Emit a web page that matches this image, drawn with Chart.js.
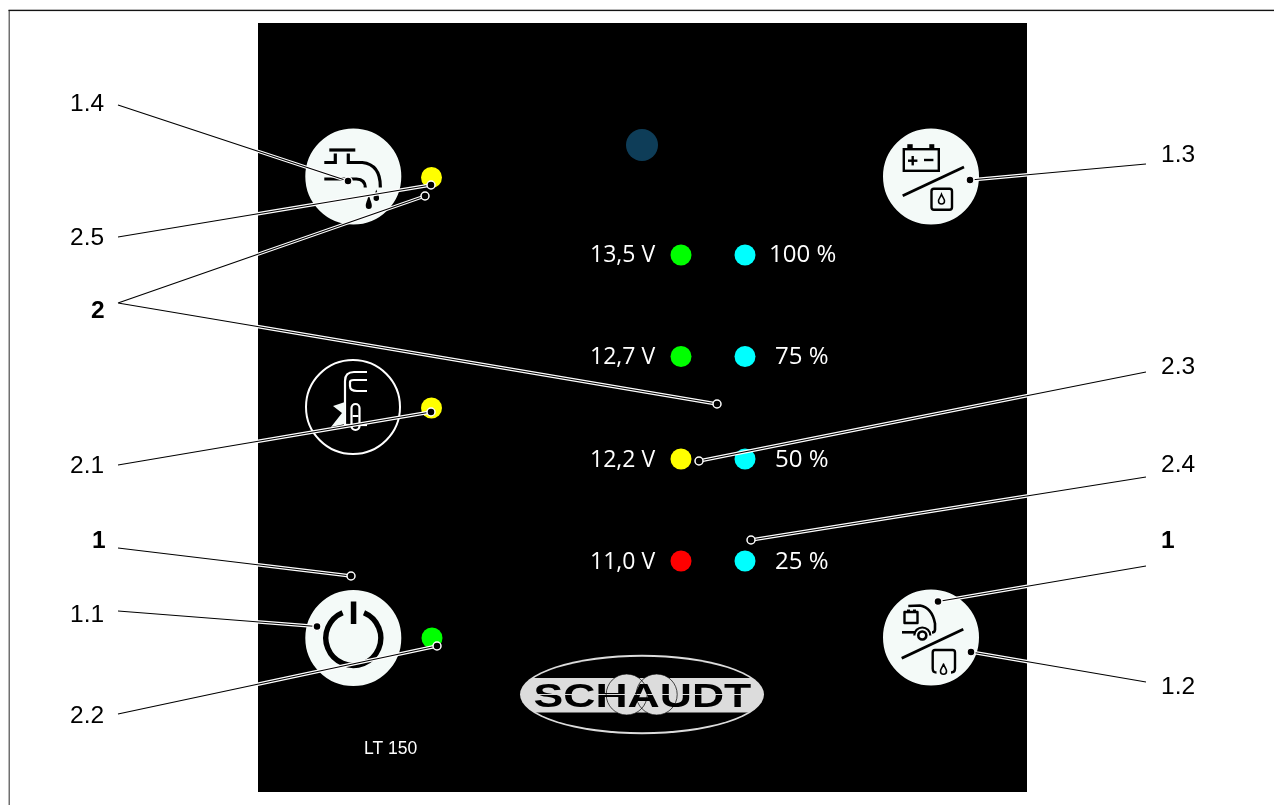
<!DOCTYPE html>
<html lang="de">
<head>
    <meta charset="UTF-8">
    <title>LT 150</title>
    <script src="https://cdn.jsdelivr.net/npm/chart.js"></script>
    <style>
        html, body { margin: 0; padding: 0; background: #ffffff; overflow: hidden; }
        canvas { display: block; }
    </style>
</head>
<body>
    <canvas id="chartCanvas" width="1274" height="805"></canvas>
    <script>
        // Buttons on the panel
        const buttonX = [353.3, 353, 353.3, 931, 931];
        const buttonY = [176.5, 407, 638, 176.5, 637.5];
        const buttonFill = ["#f4faf8", "#000000", "#f4faf8", "#f4faf8", "#f4faf8"];
        const buttonEdge = ["#f4faf8", "#ffffff", "#f4faf8", "#f4faf8", "#f4faf8"];

        // LEDs
        const ledX = [431.5, 431.5, 432, 681, 681, 681, 681, 745, 745, 745, 745];
        const ledY = [177.5, 408, 638, 255, 356.5, 459, 561, 255, 356.5, 459, 561];
        const ledColors = ["#ffff00", "#ffff00", "#00ff00", "#00ff00", "#00ff00", "#ffff00", "#ff0000",
            "#00ffff", "#00ffff", "#00ffff", "#00ffff"];

        // Panel texts
        const voltLabels = ["13,5 V", "12,7 V", "12,2 V", "11,0 V"];
        const percentLabels = ["100 %", "75 %", "50 %", "25 %"];
        const percentLeft = [769, 775, 775, 775];
        const rowBaseline = [262, 364, 467, 569];

        // Callouts
        const calloutLabels = ["1.4", "2.5", "2", "2.1", "1", "1.1", "2.2", "1.3", "2.3", "2.4", "1", "1.2"];
        const calloutX = [70, 70, 91, 70, 92, 70, 70, 1161, 1161, 1161, 1161, 1161];
        const calloutY = [111, 245, 318, 473, 548, 622, 723, 162, 374, 472, 548, 694];
        const calloutBold = [false, false, true, false, true, false, false, false, false, false, true, false];

        // Leader lines
        const leaderFrom = [[118, 105], [118, 237], [118, 303], [118, 303], [118, 465], [118, 548], [118, 611], [118, 714],
            [1146, 164], [1146, 372], [1146, 477], [1146, 566], [1146, 682]];
        const leaderTo = [[348, 181], [431, 185], [425, 196], [717, 404], [431, 412], [351, 576], [317, 626.5], [437, 646],
            [970, 180], [699, 461], [751, 540], [938, 601.5], [971, 652]];

        const leaderPath = [];
        leaderFrom.forEach((p, i) => {
            leaderPath.push({ x: p[0], y: p[1] }, { x: leaderTo[i][0], y: leaderTo[i][1] }, { x: null, y: null });
        });
        const zip = (xs, ys) => xs.map((x, i) => ({ x: x, y: ys[i] }));

        // Black panel and the outer frame
        const panelPlugin = {
            id: "panelPlugin",
            beforeDatasetsDraw(chart) {
                const c = chart.ctx, sx = chart.scales.x, sy = chart.scales.y;
                c.save();
                c.fillStyle = "#000000";
                const l = sx.getPixelForValue(258), t = sy.getPixelForValue(23);
                c.fillRect(l, t, sx.getPixelForValue(1027) - l, sy.getPixelForValue(792) - t);
                c.fillStyle = "#707070";
                c.fillRect(sx.getPixelForValue(8.5), sy.getPixelForValue(10), 1.5, 795);
                c.fillStyle = "#141414";
                c.fillRect(sx.getPixelForValue(8.5), sy.getPixelForValue(9.7), 1266, 1.4);
                drawLogo(c, sx, sy);
                c.restore();
            }
        };

        function drop(c, x, y, h, w) {
            c.beginPath();
            c.moveTo(x, y - h / 2);
            c.bezierCurveTo(x + w * 0.2, y - h * 0.15, x + w * 0.55, y + h * 0.05, x + w * 0.5, y + h * 0.22);
            c.arc(x, y + h * 0.22, w / 2, 0, Math.PI);
            c.bezierCurveTo(x - w * 0.55, y + h * 0.05, x - w * 0.2, y - h * 0.15, x, y - h / 2);
            c.closePath();
        }

        function drawLogo(c, sx, sy) {
            const x = sx.getPixelForValue(642), y = sy.getPixelForValue(694.5);
            c.save();
            c.fillStyle = "#dcdcdc";
            c.beginPath();
            c.ellipse(x, y, 122, 39.7, 0, 0, Math.PI * 2);
            c.fill();
            c.save();
            c.beginPath();
            c.rect(x - 130, y - 45, 260, 28.5);
            c.rect(x - 130, y + 18, 260, 28);
            c.clip();
            c.fillStyle = "#000000";
            c.beginPath();
            c.ellipse(x, y, 120, 37.7, 0, 0, Math.PI * 2);
            c.fill();
            c.restore();
            [-15.3, 14.7].forEach(dx => {
                c.beginPath();
                c.arc(x + dx, y, 20.5, 0, Math.PI * 2);
                c.fillStyle = "#dcdcdc";
                c.fill();
            });
            c.save();
            c.translate(x - 108.5, y + 12);
            c.scale(1.35, 1);
            c.fillStyle = "#000000";
            c.textAlign = "left";
            c.textBaseline = "alphabetic";
            c.font = "bold 33px 'Liberation Sans'";
            c.fillText("SCHAUDT", 0, 0);
            c.restore();
            // hairline through the letters
            c.fillStyle = "#dcdcdc";
            c.fillRect(x - 106, y - 0.5, 214, 1);
            c.strokeStyle = "#000000";
            c.lineWidth = 0.7;
            [-15.3, 14.7].forEach(dx => {
                c.beginPath();
                c.arc(x + dx, y, 20.5, 0, Math.PI * 2);
                c.stroke();
            });
            c.restore();
        }

        // Symbols on the buttons, coordinates relative to the button's own centre
        const iconDrawers = [
            function tap(c) {
                c.strokeStyle = "#000000"; c.lineWidth = 3.2; c.lineCap = "butt";
                c.beginPath(); c.moveTo(-24, -26.5); c.lineTo(2, -26.5); c.stroke();
                c.beginPath(); c.moveTo(-18, -23); c.lineTo(-18, -14); c.lineTo(-29, -14); c.stroke();
                c.beginPath(); c.moveTo(-5, -23); c.lineTo(-5, -14); c.lineTo(9, -14);
                c.quadraticCurveTo(27, -12, 27, 10); c.lineTo(27, 11); c.stroke();
                c.beginPath(); c.moveTo(-29, 2.5); c.lineTo(3, 2.5); c.quadraticCurveTo(12, 3, 12, 11); c.stroke();
                c.fillStyle = "#000000";
                drop(c, 15.5, 26, 16, 6); c.fill();
                drop(c, 23, 19, 12, 5.5); c.fill();
            },
            function filler(c) {
                c.strokeStyle = "#ffffff"; c.lineWidth = 2.2; c.lineCap = "butt";
                c.beginPath(); c.moveTo(14, -35); c.lineTo(1, -35); c.quadraticCurveTo(-8, -35, -8, -26); c.lineTo(-8, 18); c.stroke();
                c.beginPath(); c.moveTo(14, -16); c.lineTo(4, -16); c.quadraticCurveTo(-3, -16, -3, -21);
                c.lineTo(-3, -25); c.quadraticCurveTo(-3, -27, 1, -27); c.lineTo(14, -27); c.stroke();
                c.beginPath(); c.moveTo(-8, 18); c.lineTo(14, 18); c.stroke();
                c.fillStyle = "#f4faf8";
                c.beginPath(); c.moveTo(-8, -5); c.lineTo(-20, -1); c.lineTo(-11, 6); c.lineTo(-22, 20); c.lineTo(-8, 17); c.closePath(); c.fill();
                c.lineWidth = 2.2;
                c.fillStyle = "#000000";
                c.beginPath(); c.roundRect(-1.5, -3, 8, 26, 4); c.fill(); c.stroke();
                c.fillStyle = "#ffffff";
                c.fillRect(-0.5, 8, 6, 2);
            },
            function power(c) {
                c.strokeStyle = "#000000"; c.lineWidth = 5.4; c.lineCap = "butt";
                c.beginPath(); c.arc(0, 0, 27.5, -Math.PI / 2 + 0.4, -Math.PI / 2 - 0.4); c.stroke();
                c.fillStyle = "#000000";
                c.fillRect(-2.5, -36.5, 5.5, 22.5);
            },
            function batteryTank(c) {
                c.strokeStyle = "#000000"; c.fillStyle = "#000000"; c.lineWidth = 2.4; c.lineCap = "butt";
                c.strokeRect(-27.2, -27.3, 35, 21.6);
                c.fillRect(-23.7, -32.3, 5.4, 4.2); c.fillRect(-1.7, -32.3, 5, 4.2);
                c.fillRect(-23, -17, 9.4, 2.4); c.fillRect(-19.5, -20.5, 2.4, 9.4);
                c.fillRect(-7, -17.7, 9.4, 2.4);
                c.lineWidth = 2.8;
                c.beginPath(); c.moveTo(-28.3, 19.2); c.lineTo(33, -9.5); c.stroke();
                c.lineWidth = 2.4;
                c.beginPath(); c.roundRect(0.5, 12.2, 20.5, 21, 2.5); c.stroke();
                c.lineWidth = 1.5;
                drop(c, 10.5, 22.5, 9.5, 6); c.stroke();
            },
            function truckTank(c) {
                c.strokeStyle = "#000000"; c.lineWidth = 2.6; c.lineCap = "butt"; c.lineJoin = "round";
                c.beginPath(); c.moveTo(-22.7, -31.5); c.lineTo(-11, -32); c.quadraticCurveTo(1, -30, 4, -14);
                c.lineTo(4, -8); c.quadraticCurveTo(4, -5, 1, -5); c.stroke();
                c.beginPath(); c.moveTo(-29, -5.2); c.lineTo(-15, -5.2); c.stroke();
                c.beginPath(); c.arc(-8.7, -2, 4, 0, Math.PI * 2); c.stroke();
                c.lineWidth = 2.2;
                c.beginPath(); c.arc(-8.7, -2, 8, Math.PI, Math.PI * 2); c.stroke();
                c.lineWidth = 2.4;
                c.strokeRect(-26.5, -25.5, 13, 11);
                c.fillStyle = "#000000"; c.fillRect(-24, -28, 3, 2.4); c.fillRect(-18, -28, 3, 2.4);
                c.lineWidth = 2.8;
                c.beginPath(); c.moveTo(-29.3, 20.8); c.lineTo(32.3, -8.2); c.stroke();
                c.lineWidth = 2.4;
                c.beginPath(); c.moveTo(5.5, 35); c.quadraticCurveTo(1.7, 35, 1.7, 31); c.lineTo(1.7, 15);
                c.quadraticCurveTo(1.7, 12.5, 4, 12.5); c.lineTo(21.5, 12.5); c.quadraticCurveTo(24, 12.5, 24, 15);
                c.lineTo(24, 31); c.quadraticCurveTo(24, 35, 20, 35); c.stroke();
                c.lineWidth = 1.6;
                drop(c, 12.5, 31.5, 10, 6); c.stroke();
            }
        ];

        const iconPlugin = {
            id: "iconPlugin",
            afterDatasetDraw(chart, args) {
                if (args.index !== 0) return;
                const c = chart.ctx, sx = chart.scales.x, sy = chart.scales.y;
                iconDrawers.forEach((draw, i) => {
                    c.save();
                    c.translate(sx.getPixelForValue(buttonX[i]), sy.getPixelForValue(buttonY[i]));
                    draw(c);
                    c.restore();
                });
            }
        };

        const textPlugin = {
            id: "textPlugin",
            afterDatasetsDraw(chart) {
                const c = chart.ctx, sx = chart.scales.x, sy = chart.scales.y;
                c.save();
                c.textAlign = "left";
                c.textBaseline = "alphabetic";
                c.fillStyle = "#000000";
                calloutLabels.forEach((t, i) => {
                    c.font = (calloutBold[i] ? "bold " : "") + "24.5px 'Liberation Sans'";
                    c.fillText(t, sx.getPixelForValue(calloutX[i]), sy.getPixelForValue(calloutY[i]));
                });
                c.fillStyle = "#ffffff";
                rowBaseline.forEach((y, i) => {
                    c.font = "23px 'Open Sans'";
                    c.fillText(voltLabels[i], sx.getPixelForValue(590), sy.getPixelForValue(y));
                    c.font = "24px 'Open Sans'";
                    c.fillText(percentLabels[i], sx.getPixelForValue(percentLeft[i]), sy.getPixelForValue(y));
                });
                c.font = "17.5px 'Liberation Sans'";
                c.fillText("LT 150", sx.getPixelForValue(364), sy.getPixelForValue(754));
                c.restore();
            }
        };

        new Chart(document.getElementById("chartCanvas").getContext("2d"), {
            type: "scatter",
            data: {
                datasets: [
                    {
                        label: "Tasten",
                        data: zip(buttonX, buttonY),
                        pointRadius: 47,
                        pointBackgroundColor: buttonFill,
                        pointBorderColor: buttonEdge,
                        pointBorderWidth: 2,
                        order: 5
                    },
                    {
                        label: "LED",
                        data: zip(ledX, ledY),
                        pointRadius: 10.5,
                        pointBackgroundColor: ledColors,
                        pointBorderWidth: 0,
                        order: 4
                    },
                    {
                        label: "Sensor",
                        data: [{ x: 642, y: 145 }],
                        pointRadius: 16,
                        pointBackgroundColor: "#0e3d58",
                        pointBorderWidth: 0,
                        order: 4
                    },
                    {
                        label: "Linien weiss",
                        data: leaderPath,
                        showLine: true,
                        spanGaps: false,
                        borderColor: "#ffffff",
                        borderWidth: 3.4,
                        pointRadius: 0,
                        order: 3
                    },
                    {
                        label: "Linien",
                        data: leaderPath,
                        showLine: true,
                        spanGaps: false,
                        borderColor: "#000000",
                        borderWidth: 1.2,
                        pointRadius: 0,
                        order: 2
                    },
                    {
                        label: "Linienenden",
                        data: leaderTo.map(p => ({ x: p[0], y: p[1] })),
                        pointRadius: 4,
                        pointBackgroundColor: "#000000",
                        pointBorderColor: "#ffffff",
                        pointBorderWidth: 1.5,
                        order: 1
                    }
                ]
            },
            options: {
                responsive: false,
                animation: false,
                layout: { autoPadding: false, padding: 0 },
                plugins: { legend: { display: false }, tooltip: { enabled: false }, title: { display: false } },
                scales: {
                    x: { type: "linear", display: false, min: 0, max: 1274 },
                    y: { type: "linear", display: false, min: 0, max: 805, reverse: true }
                }
            },
            plugins: [panelPlugin, iconPlugin, textPlugin]
        });
    </script>
</body>
</html>
